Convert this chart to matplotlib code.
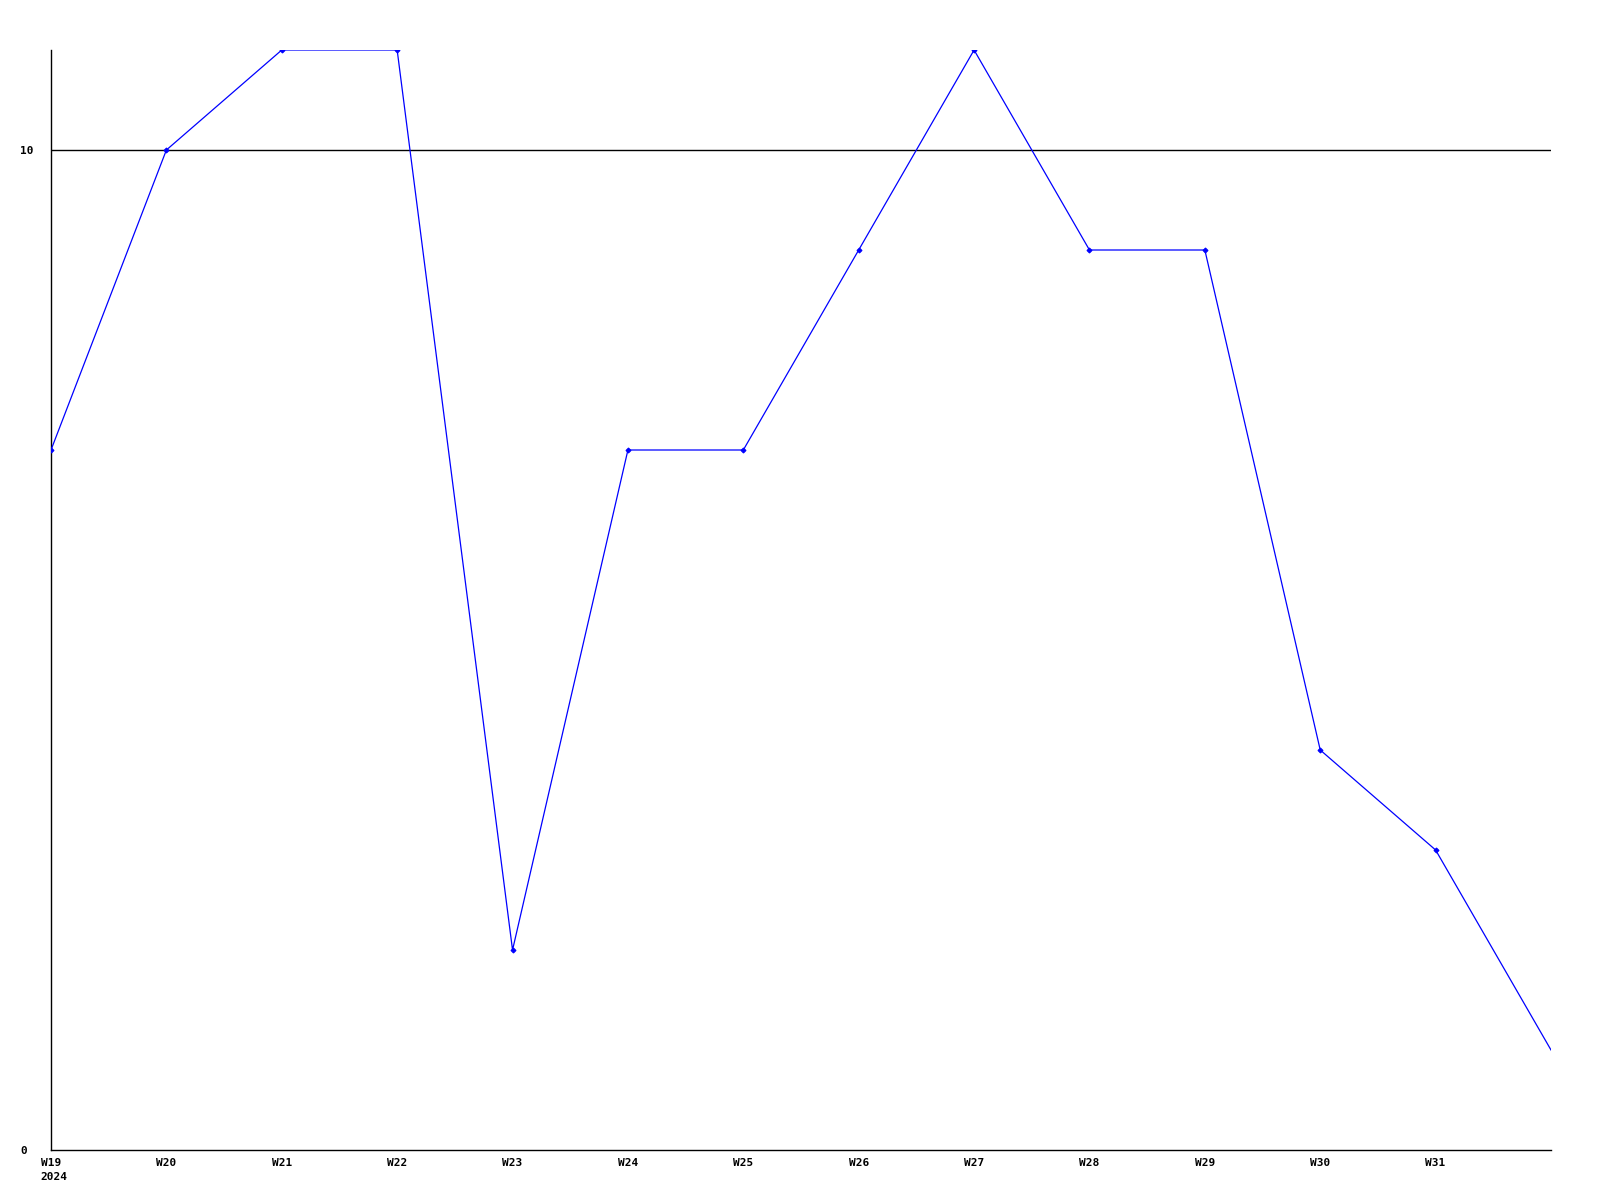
import matplotlib
matplotlib.use("Agg")
import matplotlib.pyplot as plt

weeks = ["W19", "W20", "W21", "W22", "W23", "W24", "W25", "W26",
         "W27", "W28", "W29", "W30", "W31", "W32"]
values = [7, 10, 11, 11, 2, 7, 7, 9, 11, 9, 9, 4, 3, 1]
tick_labels = ["W19", "W20", "W21", "W22", "W23", "W24", "W25",
               "W26", "W27", "W28", "W29", "W30", "W31"]
year_label = "2024"
y_ticks = [0, 10]

fig = plt.figure(figsize=(16, 12), dpi=100)
ax = fig.add_axes([51/1600, 50/1200, 1500/1600, 1100/1200])
x = list(range(len(values)))
ax.plot(x, values, color="#0000ff", linewidth=0.9, marker="D", markersize=2.5,
        markeredgewidth=0.8, markevery=list(range(len(values) - 1)), zorder=3)
ax.set_xlim(0, len(values) - 1)
ax.set_ylim(0, 11)
for s in ["top", "right"]:
    ax.spines[s].set_visible(False)
for s in ["left", "bottom"]:
    ax.spines[s].set_linewidth(1.0)
ax.axhline(10, color="black", linewidth=1.0, zorder=1)

font = dict(family="DejaVu Sans Mono", weight="bold", size=8)
ax.set_yticks(y_ticks)
ax.set_yticklabels([str(v) for v in y_ticks], ha="left", **font)
ax.set_xticks(range(len(tick_labels)))
ax.set_xticklabels(tick_labels, **font)
ax.tick_params(axis="both", length=0)
ax.tick_params(axis="y", pad=22)
ax.tick_params(axis="x", pad=6)
ax.annotate(year_label, xy=(0, 0), xycoords=ax.get_xaxis_transform(),
            xytext=(-11, -22), textcoords="offset pixels", ha="left", va="top", **font)

fig.savefig("out.png", dpi=100, facecolor="white")
